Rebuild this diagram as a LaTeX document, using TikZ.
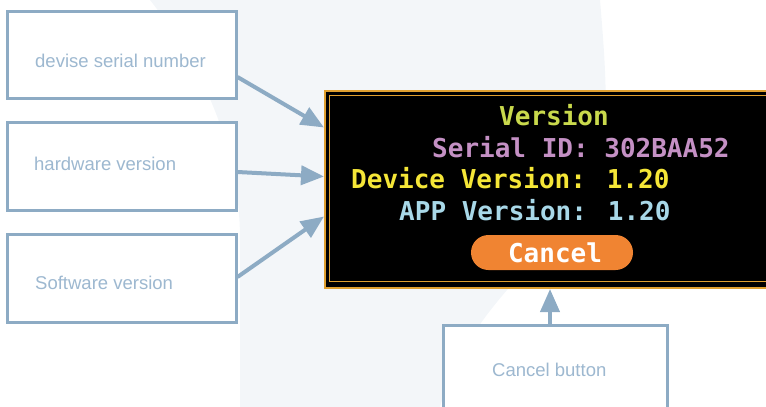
\documentclass[tikz,border=0pt]{standalone}
\usepackage{fontspec}
\setmainfont{Liberation Sans}
\newfontfamily\pixfont{DejaVu Sans Mono}[BoldFont=* Bold]
\usetikzlibrary{arrows.meta,calc,shapes.misc}
\definecolor{boxc}{HTML}{8DABC4}
\definecolor{labc}{HTML}{9DB8D0}
\definecolor{wm}{HTML}{F3F6F9}
\definecolor{gold}{HTML}{E0A030}
\definecolor{btn}{HTML}{F08432}
\definecolor{cver}{HTML}{C9D94C}
\definecolor{cser}{HTML}{C490C4}
\definecolor{cdev}{HTML}{F5E637}
\definecolor{capp}{HTML}{A8D8E8}
\tikzset{
  infobox/.style={draw=boxc, line width=3pt, fill=white, rectangle, inner sep=0pt},
  lab/.style={text=labc, font=\fontsize{18.5}{20}\selectfont, inner sep=0pt, anchor=base west},
  arr/.style={draw=boxc, line width=4pt, -{Triangle[length=23pt,width=19pt]}, shorten >=0pt},
  pix/.style={font=\pixfont\bfseries\fontsize{26}{28}\selectfont, inner sep=0pt, anchor=base west},
}
\begin{document}
\begin{tikzpicture}[x=1pt,y=-1pt]
\path[use as bounding box] (0,0) rectangle (766,407);
\clip (0,0) rectangle (766,407);
% faint watermark
\fill[wm] (150,0) .. controls (205,70) and (240,150) .. (240,240) -- (240,407) -- (440,407)
  .. controls (470,300) and (560,250) .. (600,180) .. controls (610,120) and (605,60) .. (600,0) -- cycle;
% screen
\node[fill=black, draw=gold, line width=2pt, minimum width=460, minimum height=197, inner sep=0pt, anchor=north west] (scr) at (324,90) {};
\draw[gold, line width=1.5pt] (329.5,95.5) rectangle (790,281.5);
\node[pix, text=cver, anchor=base] (tver) at (554,125) {Version};
\node[pix, text=cser] (tser) at (432,157) {Serial ID: 302BAA52};
\node[pix, text=cdev] (tdev) at (351,188) {Device Version: 1.20};
\node[pix, text=capp] (tapp) at (399,220) {APP Version: 1.20};
\node[fill=btn, rounded rectangle, minimum width=162, minimum height=35, inner sep=0pt] (btnc) at (552,252.5) {};
\node[pix, text=white, anchor=base] (tcan) at (555,262) {Cancel};
% info boxes
\node[infobox, minimum width=229, minimum height=87] (b1) at (121.5,54.5) {};
\node[infobox, minimum width=229, minimum height=88] (b2) at (121.5,166) {};
\node[infobox, minimum width=229, minimum height=88] (b3) at (121.5,278) {};
\node[infobox, minimum width=224, minimum height=90] (b4) at (555,370) {};
\node[lab] (l1) at (35,67) {devise serial number};
\node[lab] (l2) at (34,170) {hardware version};
\node[lab] (l3) at (35,289) {Software version};
\node[lab] (l4) at (492,376) {Cancel button};
% arrows
\draw[arr] ([yshift=-22.5pt]b1.east) -- ([yshift=62pt]scr.west);
\draw[arr] ([yshift=-6pt]b2.east) -- ([yshift=13pt]scr.west);
\draw[arr] ([yshift=1pt]b3.east) -- ([yshift=-27pt]scr.west);
\draw[arr] ([xshift=-5pt]b4.north) -- ([xshift=-5pt]b4.north |- scr.south);
\end{tikzpicture}
\end{document}
